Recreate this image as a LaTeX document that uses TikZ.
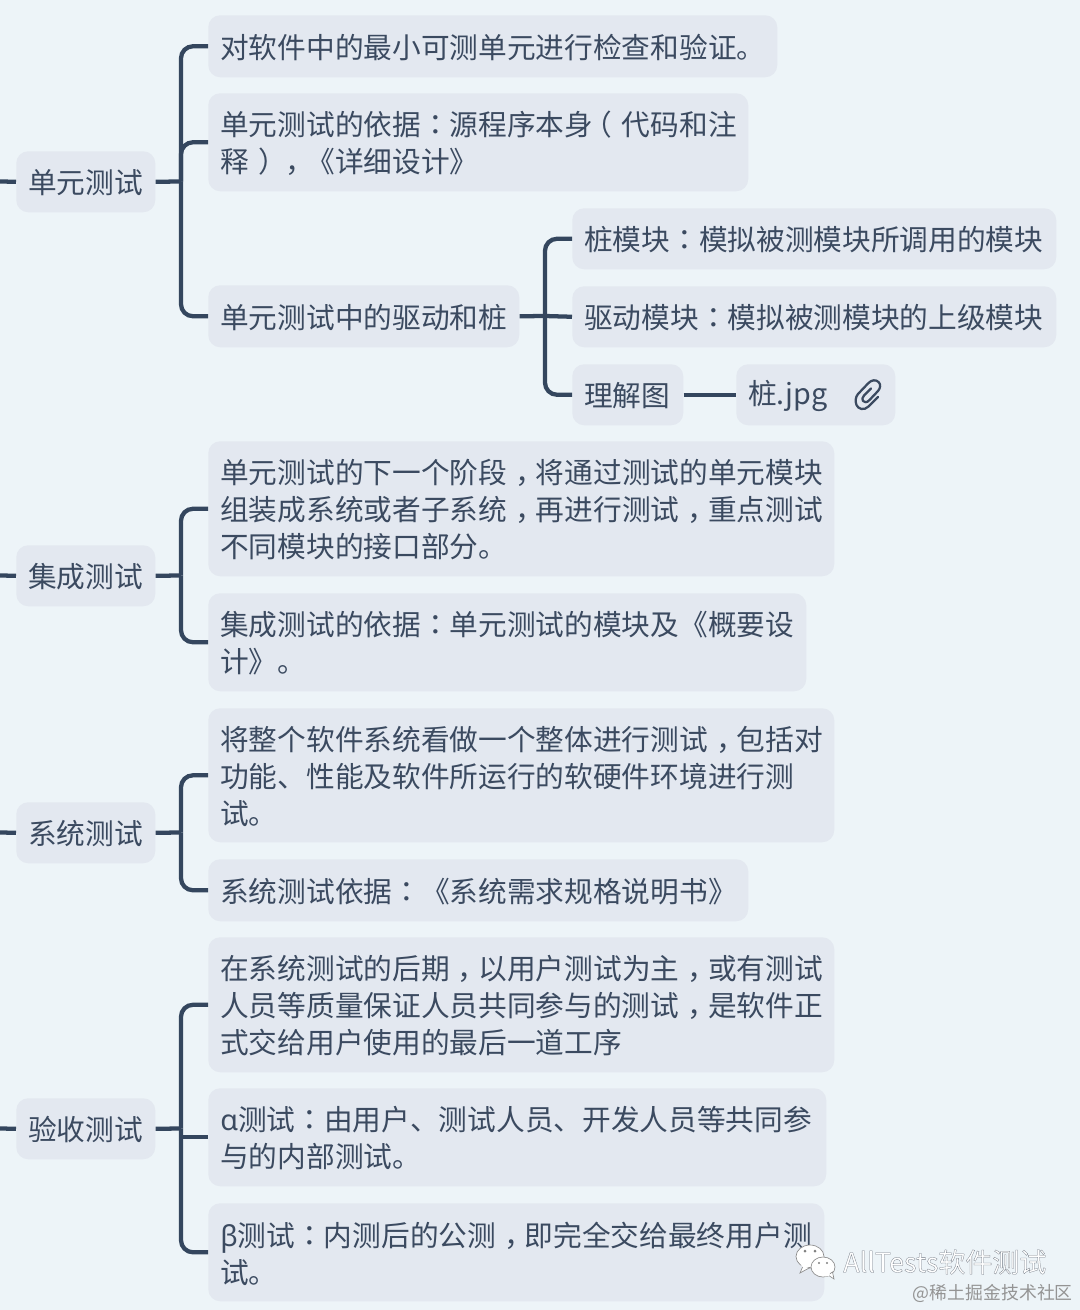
\documentclass[tikz,border=0pt]{standalone}
\usepackage{fontspec}
\setmainfont{Noto Sans CJK SC}
\newfontfamily\tcfont{Noto Sans CJK TC}
\newfontfamily\gkfont{Noto Sans}
\definecolor{bgc}{HTML}{EDF4F8}
\definecolor{boxc}{HTML}{E3E8F0}
\definecolor{linec}{HTML}{34465E}
\definecolor{txtc}{HTML}{3B4A60}
\newcommand{\cln}{{\tcfont ：}}
\newcommand{\cma}{\kern.28em，\kern-.28em}
\newcommand{\lpr}{\kern-.33em（\kern.33em}
\newcommand{\rpr}{\kern.33em）\kern-.33em}
\tikzset{
  topic/.style={fill=boxc,rounded corners=9pt,inner xsep=9pt,inner ysep=0pt,anchor=north west,align=left,text=txtc,font=\fontsize{21.52}{27.75}\selectfont},
  conn/.style={draw=linec,line width=3.2pt,rounded corners=9pt},
  clip line/.style={draw=txtc,line width=1.7pt,line cap=round,line join=round},
  bubble/.style={fill=white,draw=black!45,line width=.5pt}
}
\newcommand{\bx}[6]{%
  \pgfmathsetmacro{\tw}{(#4-#2-24)*0.75}%
  \pgfmathsetmacro{\th}{(#5-#3)*0.75}%
  \node[topic,text width=\tw pt,minimum height=\th pt] (#1) at (#2,#3) {\raisebox{-.9pt}[\height][\depth]{\parbox[c]{\tw pt}{\raggedright #6}}};%
}
\begin{document}
\begin{tikzpicture}[x=0.75pt,y=-0.75pt]
\useasboundingbox (0,0) rectangle (1080,1310);
\fill[bgc] (0,0) rectangle (1080,1310);
% level 1
\bx{r1}{16}{151}{155}{212}{单元测试}
\bx{r2}{16}{545}{155}{606}{集成测试}
\bx{r3}{16}{802}{155}{863}{系统测试}
\bx{r4}{16}{1098}{155}{1159}{验收测试}
% group 1
\bx{a1}{208}{15}{777}{77}{对软件中的最小可测单元进行检查和验证。}
\bx{a2}{208}{93}{748}{191}{单元测试的依据\cln 源程序本身\lpr 代码和注\\释\rpr \cma 《详细设计》}
\bx{a3}{208}{285}{519}{347}{单元测试中的驱动和桩}
\bx{b1}{572}{208}{1056}{269}{桩模块\cln 模拟被测模块所调用的模块}
\bx{b2}{572}{286}{1056}{347}{驱动模块\cln 模拟被测模块的上级模块}
\bx{b3}{572}{364}{683}{425}{理解图}
\bx{b4}{736}{364}{895}{425}{桩.jpg}
% group 2
\bx{c1}{208}{441}{834}{576}{单元测试的下一个阶段\cma 将通过测试的单元模块\\组装成系统或者子系统\cma 再进行测试\cma 重点测试\\不同模块的接口部分。}
\bx{c2}{208}{593}{806}{691}{集成测试的依据\cln 单元测试的模块及《概要设\\计》。}
% group 3
\bx{d1}{208}{708}{834}{842}{将整个软件系统看做一个整体进行测试\cma 包括对\\功能、性能及软件所运行的软硬件环境进行测\\试。}
\bx{d2}{208}{859}{748}{921}{系统测试依据\cln 《系统需求规格说明书》}
% group 4
\bx{e1}{208}{937}{834}{1072}{在系统测试的后期\cma 以用户测试为主\cma 或有测试\\人员等质量保证人员共同参与的测试\cma 是软件正\\式交给用户使用的最后一道工序}
\bx{e2}{208}{1088}{826}{1186}{{\gkfont α}测试\cln 由用户、测试人员、开发人员等共同参\\与的内部测试。}
\bx{e3}{208}{1203}{824}{1301}{{\gkfont β}测试\cln 内测后的公测\cma 即完全交给最终用户测\\试。}
% free ends and junctions
\coordinate (s1) at (0,181.5);
\coordinate (s2) at (0,575.5);
\coordinate (s3) at (0,832.5);
\coordinate (s4) at (0,1128.5);
\coordinate (j1) at (181,181.5);
\coordinate (j2) at (181,575.5);
\coordinate (j3) at (181,832.5);
\coordinate (j4) at (181,1128.5);
\coordinate (j5) at (545,316);
% connectors
\foreach \n/\s/\j in {r1/s1/j1,r2/s2/j2,r3/s3/j3,r4/s4/j4}{
  \draw[conn] (\s) -- (\n.west);
  \draw[conn] (\n.east) -- (\j);
}
\draw[conn] (j1) |- (a1.west);
\draw[conn] (j1) |- (a2.west);
\draw[conn] (j1) |- (a3.west);
\draw[conn] (a3.east) -- (j5);
\draw[conn] (j5) |- (b1.west);
\draw[conn] (j5) -- (b2.west);
\draw[conn] (j5) |- (b3.west);
\draw[conn] (b3.east) -- (b4.west);
\draw[conn] (j2) |- (c1.west);
\draw[conn] (j2) |- (c2.west);
\draw[conn] (j3) |- (d1.west);
\draw[conn] (j3) |- (d2.west);
\draw[conn] (j4) |- (e1.west);
\draw[conn,sharp corners] (j4) |- (e2.west);
\draw[conn] (j4) |- (e3.west);
% paperclip
\draw[clip line] (878,397) -- (868.5,406.5)
  .. controls (864,411) and (858,409) .. (856.5,405)
  .. controls (855,401) and (855.5,397) .. (858,394)
  -- (868,383.5)
  .. controls (871.5,379.5) and (876,379.5) .. (878.5,382)
  .. controls (881,384.5) and (880.5,388) .. (878,391)
  -- (869.5,400)
  .. controls (867,403) and (864,402.5) .. (863,401)
  .. controls (862,399.5) and (862,397.5) .. (864,395.5)
  -- (871,388.5);
% wechat mark
\fill[bubble] (810,1256.5) ellipse[x radius=14,y radius=11.5];
\fill[bubble] (803,1266) -- (800,1273) -- (810,1267.5) -- cycle;
\fill[white] (806,1265) ellipse[x radius=5,y radius=2.5];
\fill[bubble] (823,1267) ellipse[x radius=12,y radius=10];
\fill[bubble] (828,1275) -- (834,1279) -- (832.5,1272) -- cycle;
\fill[white] (826,1274) ellipse[x radius=4,y radius=2.5];
\fill[black!50] (805,1251) circle[radius=1.5] (815,1251) circle[radius=1.5] (819,1263) circle[radius=1.2] (827,1263) circle[radius=1.2];
% watermark texts
\node[inner sep=0pt,anchor=west,text=white,font=\fontsize{20.2}{22}\selectfont] (w1) at (843,1262) {\special{pdf:code q 2 Tr 0.2 w 0.45 0.48 0.52 RG 1 1 1 rg}AllTests软件测试\special{pdf:code Q}};
\node[inner sep=0pt,anchor=east,text=black!42,font=\fontsize{13.4}{16}\selectfont] (w2) at (1073,1293) {@稀土掘金技术社区};
\end{tikzpicture}
\end{document}
